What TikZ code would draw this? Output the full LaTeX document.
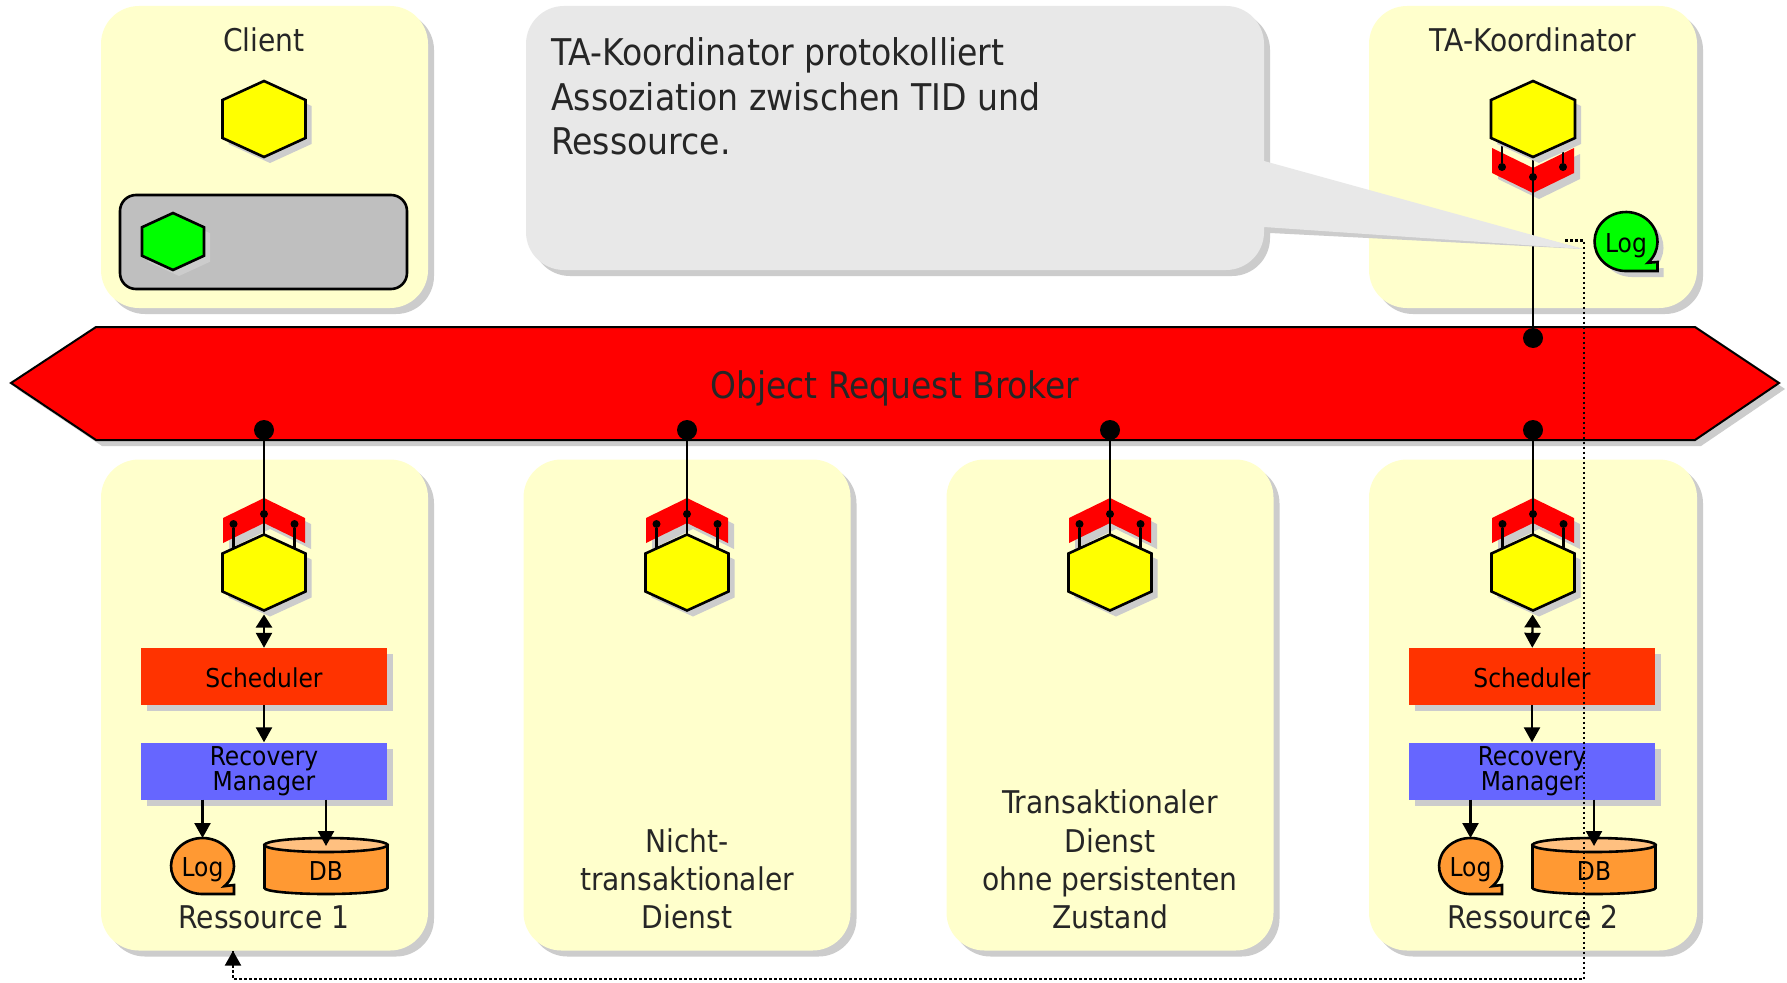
\documentclass[tikz,border=0pt]{standalone}
\usepackage{fontspec}
\setmainfont{DejaVu Sans Condensed}
\usetikzlibrary{shadows,arrows.meta}
\definecolor{panelc}{HTML}{FFFFCC}
\definecolor{shadowc}{HTML}{CCCCCC}
\definecolor{inkc}{HTML}{262626}
\definecolor{schedc}{HTML}{FF3300}
\definecolor{rmc}{HTML}{6666FF}
\definecolor{orangec}{HTML}{FF9933}
\definecolor{dbtopc}{HTML}{FFC080}
\definecolor{callc}{HTML}{E8E8E8}
\definecolor{grayboxc}{HTML}{BFBFBF}
\definecolor{hexy}{RGB}{255,255,0}
\definecolor{hexg}{RGB}{0,255,0}
\definecolor{orbr}{RGB}{255,0,0}
\tikzset{
  x=1pt,y=-1pt,
  panel/.style={fill=panelc,rounded corners=38pt,inner sep=0pt,
    general shadow={fill=shadowc,shadow xshift=6pt,shadow yshift=-6pt}},
  anchorbox/.style={inner sep=0pt,outer sep=0pt},
  hexnode/.style={anchorbox,minimum width=83pt,minimum height=76pt},
  pindot/.style={circle,fill=black,inner sep=0pt,minimum size=8pt},
  busdot/.style={circle,fill=black,inner sep=0pt,minimum size=20pt},
  wire/.style={line width=2.4pt,black},
  arr/.style={wire,-{Triangle[length=15pt,width=16pt]}},
  biarr/.style={wire,{Triangle[length=13pt,width=16pt]}-{Triangle[length=15pt,width=16pt]},shorten <=4pt},
  flow/.style={line width=2.5pt,black,dash pattern=on 2.5pt off 2.5pt},
  blockbox/.style={inner sep=0pt,minimum width=246pt,minimum height=57pt,align=center,
    general shadow={fill=shadowc,shadow xshift=6pt,shadow yshift=-6pt}},
  lab/.style={inner sep=0pt,text depth=0pt,text=inkc,align=center,anchor=south,font=\fontsize{31.3}{38.3}\selectfont},
}
\newcommand\hexpaint[4]{% node, half width, half height, colour
  \fill[shadowc,shift={(#1)},shift={(6,6)}] (0,-#3) -- (#2,-#3/2) -- (#2,#3/2) -- (0,#3) -- (-#2,#3/2) -- (-#2,-#3/2) -- cycle;
  \filldraw[fill=#4,draw=black,line width=2.6pt,line join=miter,shift={(#1)}] (0,-#3) -- (#2,-#3/2) -- (#2,#3/2) -- (0,#3) -- (-#2,#3/2) -- (-#2,-#3/2) -- cycle;}
\newcommand\chevpaint[3]{% x, apex y, direction
  \fill[shadowc,shift={(#1+6,#2+6)},yscale=#3] (-41,45) -- (0,25) -- (41,45) -- (41,20) -- (0,0) -- (-41,20) -- cycle;
  \fill[orbr,shift={(#1,#2)},yscale=#3] (-41,45) -- (0,25) -- (41,45) -- (41,20) -- (0,0) -- (-41,20) -- cycle;}
\newcommand\logoutline[1]{(0,#1) -- (31.5,#1) -- (31.5,#1-9) -- (21.9,#1*0.72) arc[start angle=46,end angle=-270,x radius=31.5,y radius=#1] -- cycle}
\newcommand\logpaint[6]{% name, x, y, colour, shadow(0/1), vertical radius
  \ifnum#5=1
  \fill[shadowc,shift={(#2+6,#3+6)}] \logoutline{#6};
  \fi
  \filldraw[fill=#4,draw=black,line width=2.6pt,shift={(#2,#3)}] \logoutline{#6};
  \node[anchorbox,minimum width=63pt,minimum height=2*#6*1pt,font=\fontsize{26}{30}\selectfont] (#1) at (#2,#3) {\raisebox{-10.5pt}[0pt][0pt]{Log}};}
\newcommand\dbpaint[3]{% name, x, y(centre)
  \filldraw[fill=orangec,draw=black,line width=2.6pt,shift={(#2,#3)}] (-61.5,-21) -- (-61.5,22) arc[start angle=180,end angle=0,x radius=61.5,y radius=6] -- (61.5,-21) -- cycle;
  \filldraw[fill=dbtopc,draw=black,line width=2.6pt,shift={(#2,#3)}] (0,-21) ellipse[x radius=61.5,y radius=7];
  \node[anchorbox,minimum width=123pt,minimum height=56pt,font=\fontsize{26}{30}\selectfont] (#1) at (#2,#3) {\raisebox{-14.5pt}[0pt][0pt]{DB}};}
\newcommand\servicegroup[2]{% id, x
  \node[hexnode] (hex#1) at (#2,572.5) {};
  \chevpaint{#2}{498}{1}
  \node[pindot] (pa#1) at (#2-30.5,524) {};
  \node[pindot] (pb#1) at (#2,514) {};
  \node[pindot] (pc#1) at (#2+30.5,524) {};
  \node[busdot] (bus#1) at (#2,430) {};
  \draw[wire] (bus#1) -- (hex#1);
  \draw[wire] (pa#1) -- (pa#1 |- hex#1);
  \draw[wire] (pc#1) -- (pc#1 |- hex#1);
  \hexpaint{hex#1}{41.5}{38}{hexy}}
\newcommand\resourcestack[2]{% id, x
  \node[blockbox,fill=schedc,font=\fontsize{26}{25}\selectfont] (sched#1) at (#2,676.5) {\raisebox{-10.5pt}[0pt][0pt]{Scheduler}};
  \node[blockbox,fill=rmc,font=\fontsize{26}{25.5}\selectfont] (rm#1) at (#2,771) {\raisebox{-3.5pt}{Recovery}\\\raisebox{-3.5pt}{Manager}};
  \logpaint{log#1}{#2-61.5}{866}{orangec}{0}{28}
  \dbpaint{db#1}{#2+62}{866}
  \draw[biarr] (hex#1) -- (sched#1);
  \draw[arr] (sched#1) -- (rm#1);
  \draw[arr] (rm#1.south -| log#1.north) -- (log#1.north);
  \draw[arr] (rm#1.south -| db#1.north) -- ([yshift=-8pt]db#1.north);}
\begin{document}
\begin{tikzpicture}
\useasboundingbox (0,0) rectangle (1787,982);
\fill[white] (0,0) rectangle (1787,982);
% panels
\node[panel,minimum width=327pt,minimum height=302pt] (client) at (264.5,157) {};
\node[panel,minimum width=328pt,minimum height=302pt] (coord) at (1533,157) {};
\node[panel,minimum width=327pt,minimum height=491pt] (res1) at (264.5,705) {};
\node[panel,minimum width=327pt,minimum height=491pt] (svc1) at (687,705) {};
\node[panel,minimum width=327pt,minimum height=491pt] (svc2) at (1110,705) {};
\node[panel,minimum width=328pt,minimum height=491pt] (res2) at (1533,705) {};
% broker
\fill[shadowc,shift={(6,6)}] (11,383) -- (96,327) -- (1695,327) -- (1779,383) -- (1695,440) -- (96,440) -- cycle;
\filldraw[fill=orbr,draw=black,line width=2pt] (11,383) -- (96,327) -- (1695,327) -- (1779,383) -- (1695,440) -- (96,440) -- cycle;
\node[anchorbox,minimum width=1768pt,minimum height=113pt] (orb) at (895,383.5) {};
\node[lab,font=\fontsize{36.6}{38}\selectfont] (orbtext) at (895,399) {Object Request Broker};
% client contents
\node[hexnode] (hexclient) at (264,119) {};
\hexpaint{hexclient}{41.5}{38}{hexy}
\node[draw=black,line width=2.6pt,fill=grayboxc,rounded corners=16pt,minimum width=287pt,minimum height=94pt,inner sep=0pt] (clientbox) at (263.5,242) {};
\node[anchorbox,minimum width=62pt,minimum height=57pt] (hexgreen) at (173,241.5) {};
\hexpaint{hexgreen}{31}{28.5}{hexg}
\node[lab] (clientlab) at (264,52) {Client};
% coordinator contents
\node[hexnode] (hexta) at (1533,119) {};
\chevpaint{1533}{193}{-1}
\node[pindot] (pata) at (1502,167) {};
\node[pindot] (pbta) at (1533,177) {};
\node[pindot] (pcta) at (1563,167) {};
\node[busdot] (busta) at (1533,338) {};
\draw[wire] (hexta) -- (busta);
\draw[wire] (pata) -- (pata |- hexta);
\draw[wire] (pcta) -- (pcta |- hexta);
\hexpaint{hexta}{42}{38}{hexy}
\logpaint{logta}{1626}{241.5}{hexg}{1}{29.5}
\node[lab] (coordlab) at (1533,52) {TA-Koordinator};
% services
\servicegroup{A}{264}
\servicegroup{B}{687}
\servicegroup{C}{1110}
\servicegroup{D}{1533}
\resourcestack{A}{264}
\resourcestack{D}{1532}
\node[lab] (res1lab) at (264,929) {Ressource 1};
\node[lab] (res2lab) at (1533,929) {Ressource 2};
\node[lab] (svc1lab) at (687,929) {Nicht-\\transaktionaler\\Dienst};
\node[lab] (svc2lab) at (1110,929) {Transaktionaler\\Dienst\\ohne persistenten\\Zustand};
% dotted connector
\coordinate (flowstart) at (1565,240.5);
\coordinate (flowturn) at (1584,240.5);
\coordinate (flowdown) at (1584,979);
\coordinate (flowleft) at (233,979);
\draw[flow] (flowstart) -- (flowturn) -- (flowdown) -- (flowleft) -- ([xshift=-31.5pt]res1.south);
\draw[wire,-{Triangle[length=15pt,width=16pt]}] (233,966) -- ([xshift=-31.5pt]res1.south);
% callout
\fill[shadowc] (1270,167) -- (1583,249) -- (1270,233) [rounded corners=38pt] -- (1270,276) -- (532,276) -- (532,12) -- (1270,12) [sharp corners] -- cycle;
\fill[callc] (1264,161) -- (1583,249) -- (1264,227) [rounded corners=38pt] -- (1264,270) -- (526,270) -- (526,6) -- (1264,6) [sharp corners] -- cycle;
\node[lab,align=left,anchor=south west,font=\fontsize{36.8}{44.7}\selectfont] (calltext) at (551,155) {TA-Koordinator protokolliert\\Assoziation zwischen TID und\\Ressource.};
\end{tikzpicture}
\end{document}
